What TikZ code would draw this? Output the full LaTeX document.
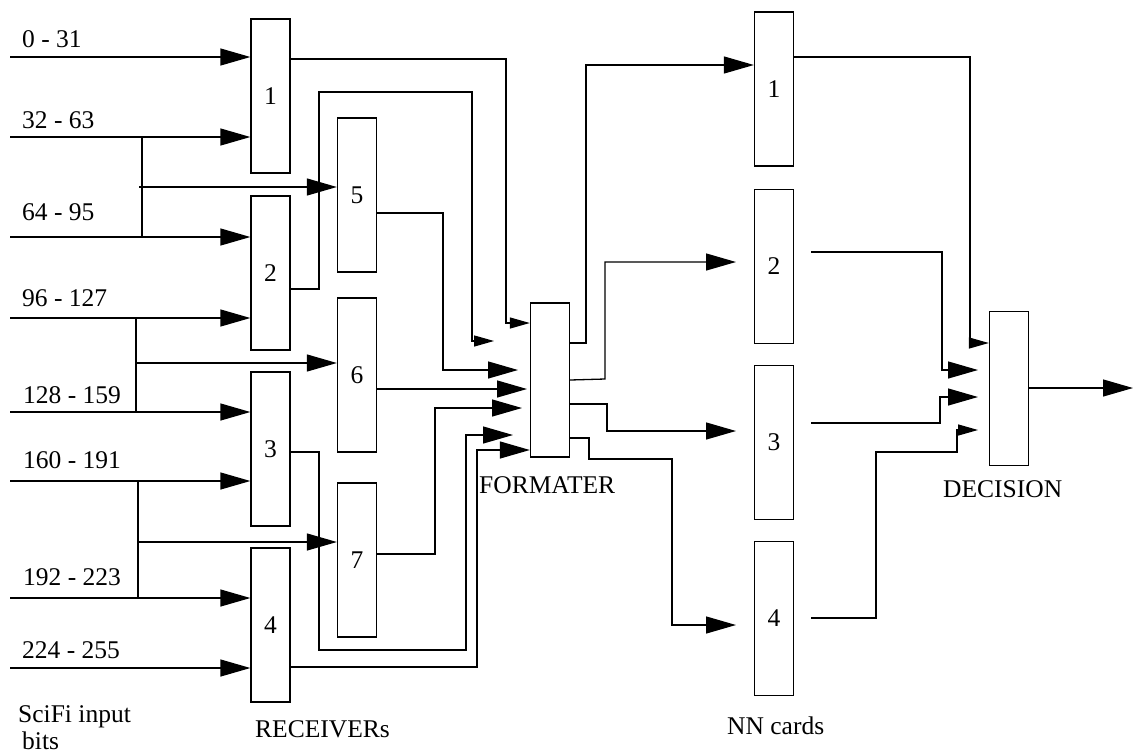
\documentclass[tikz,border=0pt]{standalone}
\usepackage{fontspec}
\setmainfont{Liberation Serif}
\usetikzlibrary{arrows.meta,calc}
\begin{document}
\begin{tikzpicture}[x=1pt,y=-1pt,
  box/.style={draw, line width=1.3pt, minimum width=39pt, minimum height=154pt, inner sep=0pt, font=\fontsize{25.5}{30}\selectfont},
  wire/.style={line width=1.3pt},
  big/.style={wire, -{Triangle[length=30pt,width=17pt]}},
  small/.style={wire, -{Triangle[length=20pt,width=11pt]}},
  lbl/.style={font=\fontsize{25.5}{30}\selectfont, inner sep=0pt, anchor=base west}]
\useasboundingbox (0,0) rectangle (1135,753);
% boxes
\node[box] (R1) at (270.5,96) {1};
\node[box] (R2) at (270.5,273) {2};
\node[box] (R3) at (270.5,449) {3};
\node[box] (R4) at (270.5,625) {4};
\node[box] (R5) at (357,195) {5};
\node[box] (R6) at (357,375) {6};
\node[box] (R7) at (357,560) {7};
\node[box] (F) at (550,380) {};
\node[box] (N1) at (774,89) {1};
\node[box] (N2) at (774,266.5) {2};
\node[box] (N3) at (774,442.5) {3};
\node[box] (N4) at (774,618.5) {4};
\node[box] (D) at (1009,388.5) {};
% labels
\node[lbl] (l1) at (22,47) {0 - 31};
\node[lbl] (l2) at (22,128) {32 - 63};
\node[lbl] (l3) at (22,220) {64 - 95};
\node[lbl] (l4) at (22,306) {96 - 127};
\node[lbl] (l5) at (23,403) {128 - 159};
\node[lbl] (l6) at (23,468) {160 - 191};
\node[lbl] (l7) at (23,585) {192 - 223};
\node[lbl] (l8) at (22,658) {224 - 255};
\node[lbl] (sci) at (18,722) {SciFi input};
\node[lbl] (bits) at (22,749) {bits};
\node[lbl] (rec) at (255,737) {RECEIVERs};
\node[lbl] (fmt) at (479,493) {FORMATER};
\node[lbl] (nnc) at (727,734) {NN cards};
\node[lbl] (dec) at (943,497) {DECISION};
% input coordinates
\coordinate (i1) at (10,57);
\coordinate (i2) at (10,137);
\coordinate (i3) at (10,237);
\coordinate (i4) at (10,318);
\coordinate (i5) at (10,412);
\coordinate (i6) at (10,481);
\coordinate (i7) at (10,598);
\coordinate (i8) at (10,668);
\draw[big] (i1) -- (R1.west |- i1);
\draw[big] (i2) -- (R1.west |- i2);
\draw[big] (i3) -- (R2.west |- i3);
\draw[big] (i4) -- (R2.west |- i4);
\draw[big] (i5) -- (R3.west |- i5);
\draw[big] (i6) -- (R3.west |- i6);
\draw[big] (i7) -- (R4.west |- i7);
\draw[big] (i8) -- (R4.west |- i8);
\draw[wire] (142,137) -- (142,237);
\draw[big] (139,187) -- (R5.west |- 0,187);
\draw[wire] (136,318) -- (136,412);
\draw[big] (136,363) -- (R6.west |- 0,363);
\draw[wire] (138,481) -- (138,598);
\draw[big] (138,542) -- (R7.west |- 0,542);
% receivers to formater
\coordinate (f2) at (494,341);
\coordinate (f5) at (518,370);
\coordinate (f6) at (527,389);
\coordinate (f7) at (522,408);
\coordinate (f3) at (513,435);
\draw[small] (R1.east |- 0,59) -- (506,59) -- (506,323) -- (F.west |- 0,323);
\draw[small] (R2.east |- 0,289) -- (319,289) -- (319,92) -- (472,92) -- (472,341) -- (f2);
\draw[big] (R5.east |- 0,213) -- (443,213) -- (443,370) -- (f5);
\draw[big] (R6.east |- 0,389) -- (f6);
\draw[big] (R7.east |- 0,554) -- (435,554) -- (435,408) -- (f7);
\draw[big] (R3.east |- 0,452) -- (319,452) -- (319,650) -- (466,650) -- (466,435) -- (f3);
\draw[big] (R4.east |- 0,667) -- (477,667) -- (477,450) -- (F.west |- 0,450);
% formater to NN cards
\coordinate (n2) at (736,262);
\coordinate (n3) at (736,431);
\coordinate (n4) at (736,625);
\draw[big] (F.east |- 0,343) -- (586,343) -- (586,65) -- (N1.west |- 0,65);
\draw[big] (F.east |- 0,380) -- (605,379) -- (605,262) -- (n2);
\draw[big] (F.east |- 0,404) -- (607,404) -- (607,431) -- (n3);
\draw[big] (F.east |- 0,438) -- (589,438) -- (589,459) -- (672,459) -- (672,625) -- (n4);
% NN cards to decision
\coordinate (d2) at (978,370);
\coordinate (d3) at (978,397);
\coordinate (d4) at (978,430);
\coordinate (out) at (1133,388);
\draw[small] (N1.east |- 0,57) -- (970,57) -- (970,343) -- (D.west |- 0,343);
\draw[big] ($(N2.east |- 0,252)+(17,0)$) -- (942,252) -- (942,370) -- (d2);
\draw[big] ($(N3.east |- 0,423)+(17,0)$) -- (940,423) -- (940,397) -- (d3);
\draw[small] ($(N4.east |- 0,618)+(17,0)$) -- (876,618) -- (876,452) -- (957,452) -- (957,430) -- (d4);
\draw[big] (D.east |- 0,388) -- (out);
\end{tikzpicture}
\end{document}
